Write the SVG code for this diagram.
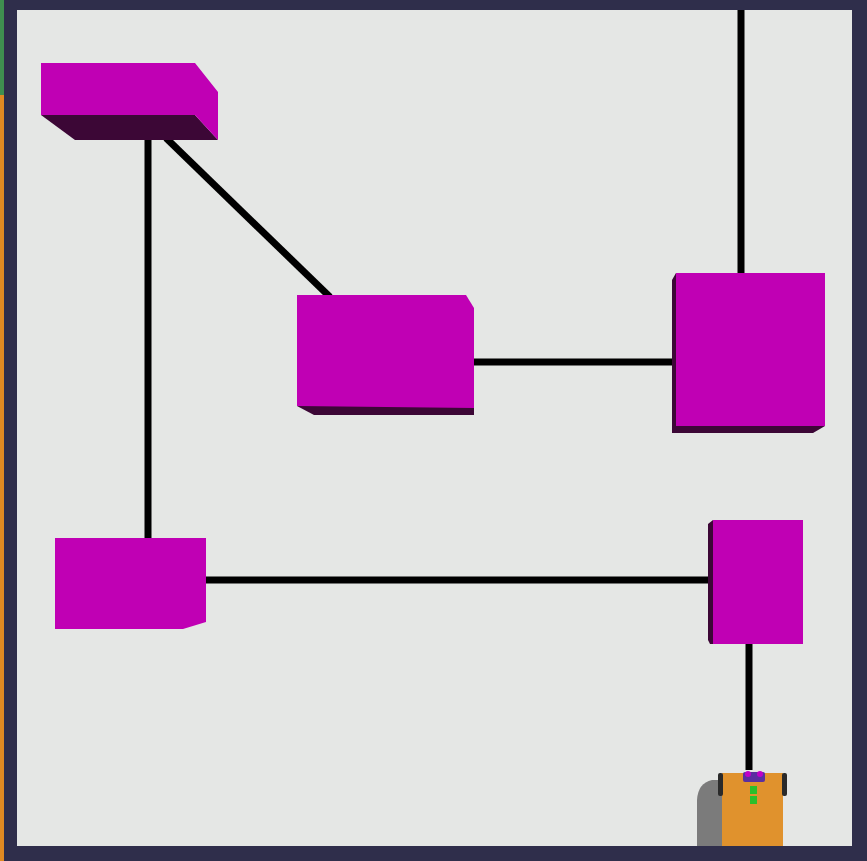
<svg xmlns="http://www.w3.org/2000/svg" width="867" height="861" viewBox="0 0 867 861">
  <style>
    .top { fill: #c000b4; }
    .side { fill: #3c0736; }
    .wire { stroke: #000; stroke-width: 7; fill: none; stroke-linecap: butt; }
  </style>
  <!-- frame and floor -->
  <rect x="0" y="0" width="867" height="861" fill="#2f2e4b"/>
  <rect x="0" y="0" width="4" height="95" fill="#3f8f4f"/>
  <rect x="0" y="95" width="4" height="766" fill="#e08a22"/>
  <rect x="17" y="10" width="835" height="836" fill="#e5e7e5"/>

  <!-- connectors -->
  <g id="connectors">
    <line class="wire" x1="148" y1="138" x2="148" y2="540"/>
    <line class="wire" x1="166" y1="138" x2="330" y2="297"/>
    <line class="wire" x1="474" y1="362" x2="673" y2="362"/>
    <line class="wire" x1="741" y1="10" x2="741" y2="274"/>
    <line class="wire" x1="205" y1="580" x2="710" y2="580"/>
    <line class="wire" x1="749" y1="643" x2="749" y2="770"/>
  </g>

  <!-- blocks -->
  <g id="block-a">
    <polygon class="side" points="41,115 195,115 218,140 75,140"/>
    <polygon class="top" points="41,63 195,63 218,92 218,140 195,115 41,115"/>
  </g>
  <g id="block-b">
    <polygon class="side" points="297,406 474,406 474,415 314,415"/>
    <polygon class="top" points="297,295 466,295 474,308 474,408 297,406"/>
  </g>
  <g id="block-c">
    <polygon class="side" points="672,280 676,273 676,426 825,426 813,433 672,433"/>
    <polygon class="top" points="676,273 825,273 825,426 676,426"/>
  </g>
  <g id="block-d">
    <polygon class="top" points="55,538 206,538 206,622 183,629 55,629"/>
  </g>
  <g id="block-e">
    <polygon class="side" points="708,524 713,520 713,644 710,644 708,640"/>
    <polygon class="top" points="713,520 803,520 803,644 713,644"/>
  </g>

  <!-- robot -->
  <g id="robot">
    <path d="M697,846 L697,800 Q698,783 712,780 L722,780 L722,846 Z" fill="#7b7b7b"/>
    <rect x="722" y="773" width="61" height="73" fill="#e0922d"/>
    <rect x="718" y="773" width="5" height="23" rx="2" fill="#2a2a2a"/>
    <rect x="782" y="773" width="5" height="23" rx="2" fill="#2a2a2a"/>
    <rect x="743" y="772" width="22" height="10" rx="2" fill="#5a2fa0"/>
    <circle cx="748" cy="774" r="3" fill="#c000c8"/>
    <circle cx="760" cy="774" r="3" fill="#c000c8"/>
    <rect x="750" y="786" width="7" height="8" fill="#2bbf2b"/>
    <rect x="750" y="796" width="7" height="8" fill="#2bbf2b"/>
  </g>
</svg>
